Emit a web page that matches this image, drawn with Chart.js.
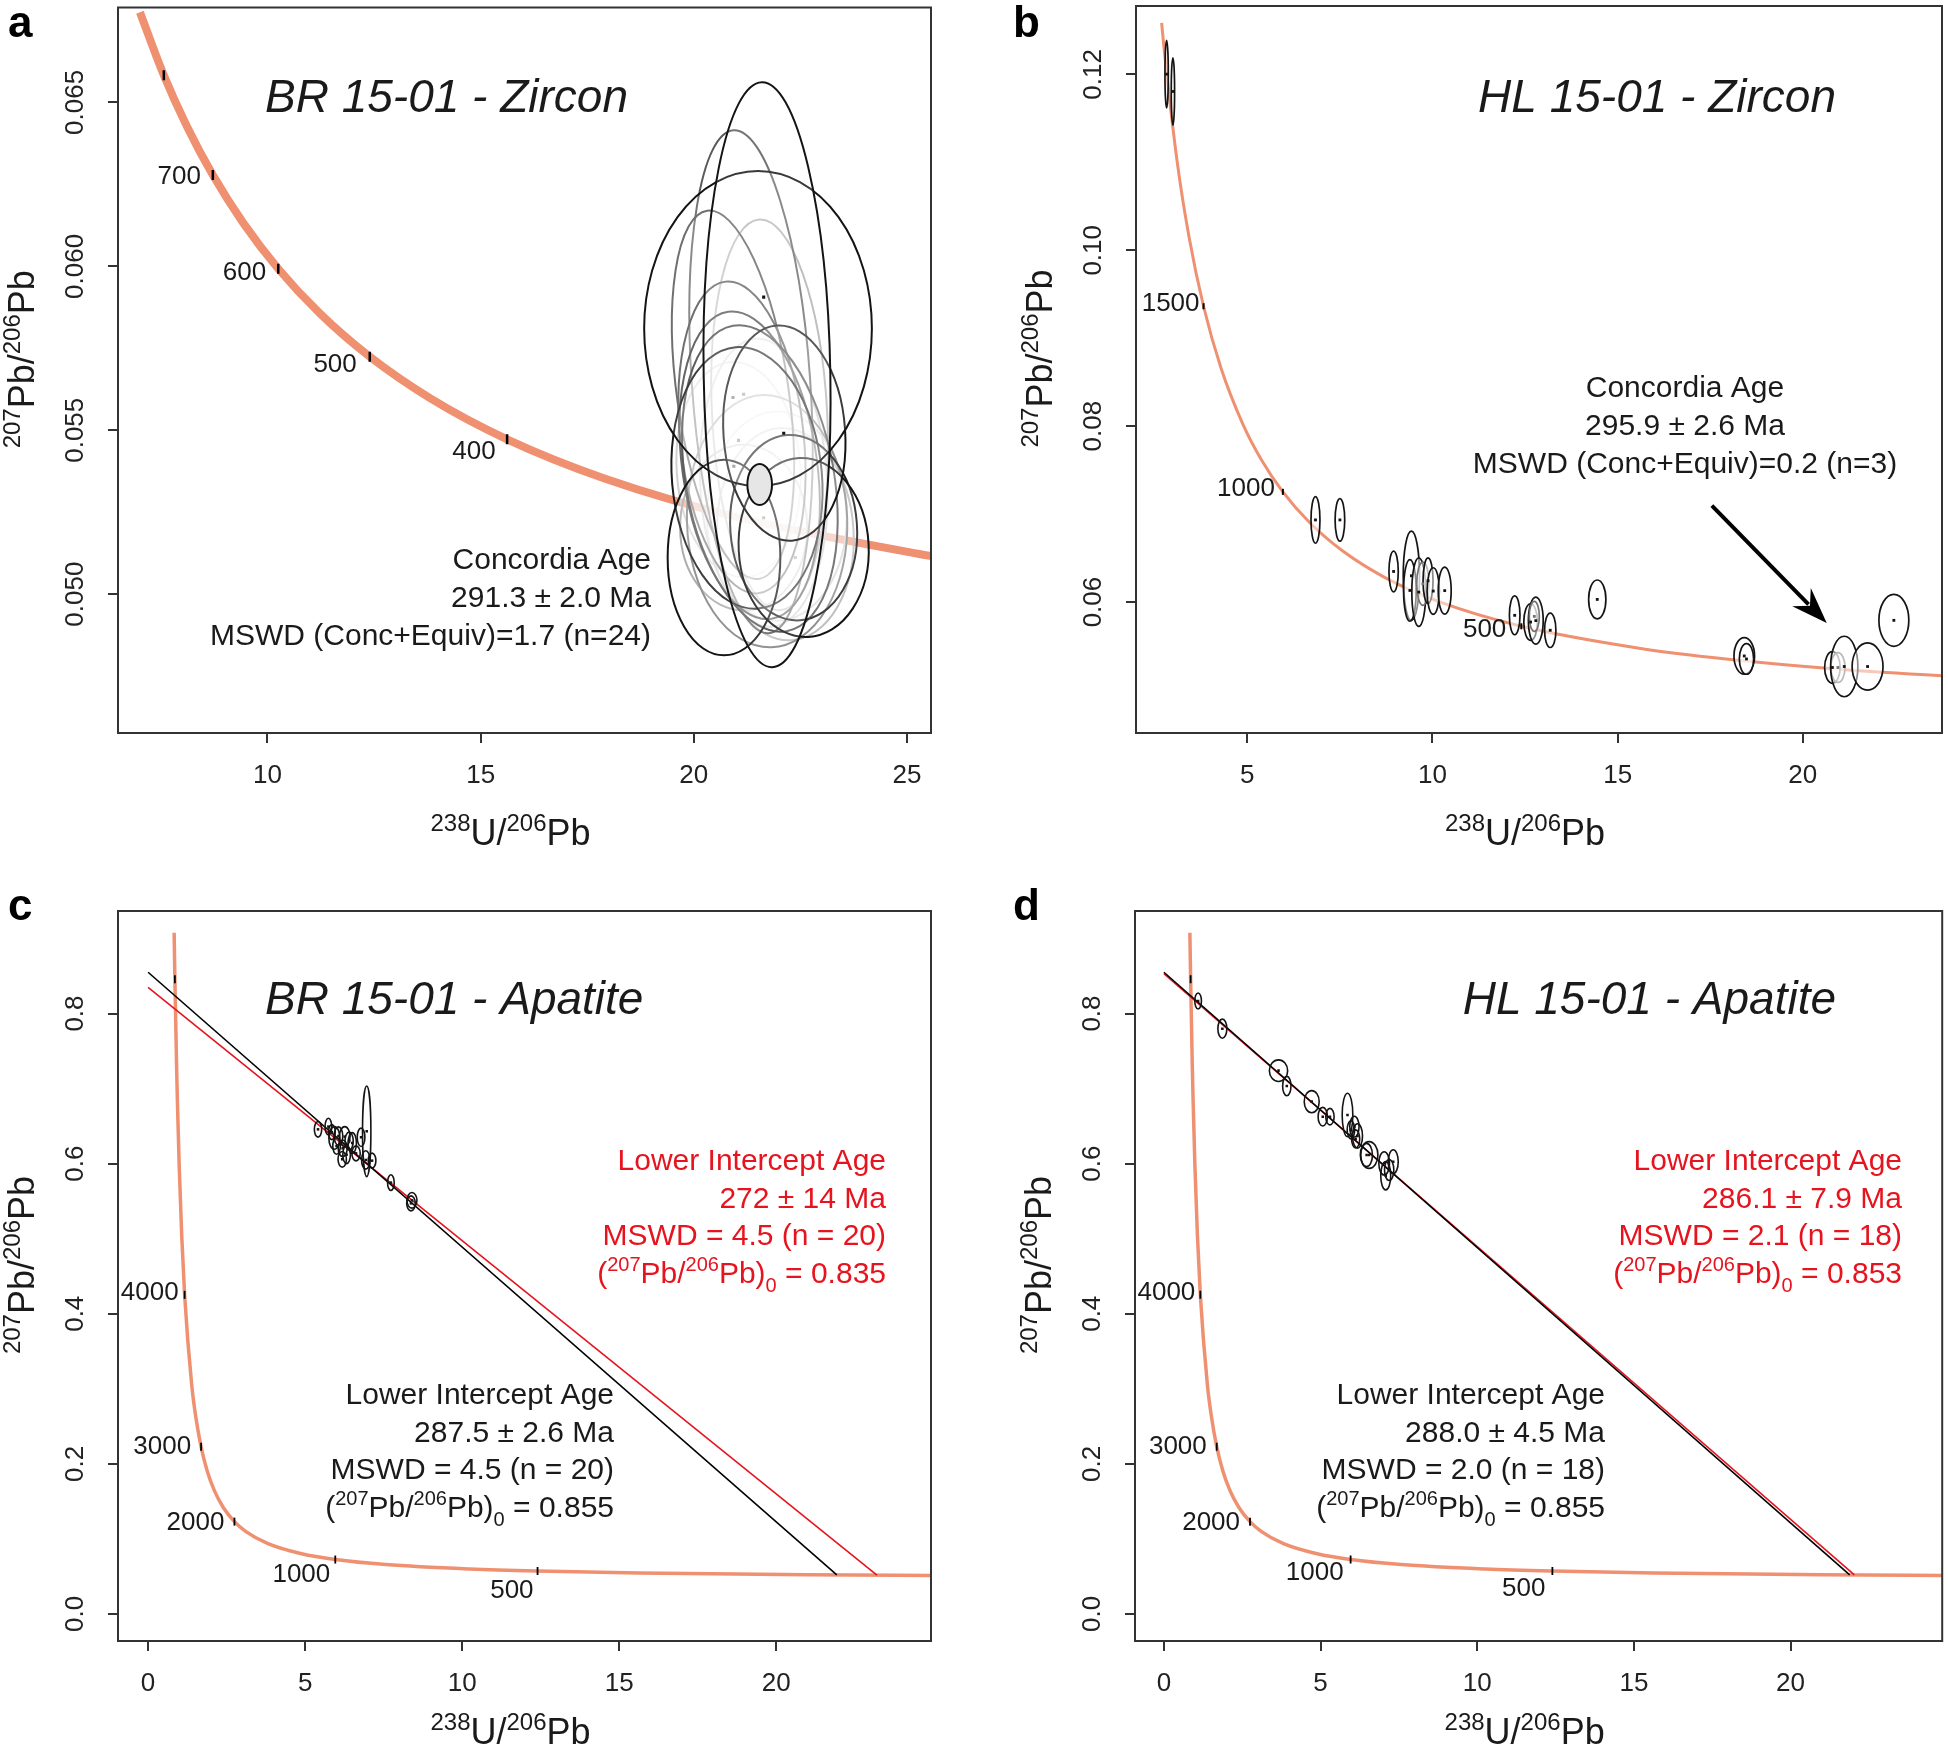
<!DOCTYPE html>
<html>
<head>
<meta charset="utf-8">
<title>U-Pb concordia diagrams</title>
<script src="https://cdn.jsdelivr.net/npm/chart.js@4.4.1/dist/chart.umd.min.js"></script>
<style>
  html, body { margin:0; padding:0; background:#ffffff; }
  body { width:1948px; height:1750px; position:relative; overflow:hidden; }
  .panel { position:absolute; width:974px; height:875px; }
  .panel canvas { display:block; }
</style>
</head>
<body>
<div class="panel" style="left:0;top:0;"><canvas id="pa" width="974" height="875"></canvas></div>
<div class="panel" style="left:974px;top:0;"><canvas id="pb" width="974" height="875"></canvas></div>
<div class="panel" style="left:0;top:875px;"><canvas id="pc" width="974" height="875"></canvas></div>
<div class="panel" style="left:974px;top:875px;"><canvas id="pd" width="974" height="875"></canvas></div>
<script>
// ====================== DATA ======================
// ---- a) BR 15-01 zircon ----
const xTicksA = [10, 15, 20, 25];
const xTickLabelsA = ['10', '15', '20', '25'];
const yTicksA = [0.050, 0.055, 0.060, 0.065];
const yTickLabelsA = ['0.050', '0.055', '0.060', '0.065'];
const concordiaA_x = [7.007, 7.568, 8.105, 8.718, 9.426, 10.252, 11.228, 12.399, 13.831, 15.621, 17.923, 20.992, 25.289, 26.363];
const concordiaA_y = [0.06775, 0.065829, 0.064283, 0.062785, 0.061334, 0.059927, 0.058565, 0.057245, 0.055966, 0.054725, 0.053523, 0.052356, 0.051226, 0.051004];
const ageTicksA_label = ['', '700', '600', '500', '400'];
const ageTicksA_x = [7.568, 8.718, 10.252, 12.399, 15.621];
const ageTicksA_y = [0.065829, 0.062785, 0.059927, 0.057245, 0.054725];
const ellipsesA_x  = [21.95, 21.05, 21.64, 21.17, 22.15, 21.78, 21.72, 21.342, 20.92, 21.13, 21.31, 21.55, 21.248, 22.343, 20.709, 22.578, 22.124, 21.507, 21.718];
const ellipsesA_y  = [0.05238, 0.0538, 0.0534, 0.05203, 0.05183, 0.05547, 0.05223, 0.056481, 0.05608, 0.05478, 0.05393, 0.05353, 0.053547, 0.052029, 0.051118, 0.051422, 0.054913, 0.058101, 0.056694];
const ellipsesA_sx = [1.64, 1.45, 1.49, 1.49, 1.6, 1.35, 1.88, 1.388, 1.31, 1.447, 1.58, 1.74, 1.76, 1.486, 1.322, 1.525, 1.427, 2.671, 1.486];
const ellipsesA_sy = [0.00319, 0.00329, 0.0044, 0.00253, 0.00324, 0.00597, 0.00385, 0.00769, 0.00567, 0.00478, 0.00473, 0.00473, 0.004, 0.002833, 0.002985, 0.002732, 0.003289, 0.004807, 0.008925];
const ellipsesA_tilt = [0, -4, -3, 0, -3, -3, -2, -4, -8, -6, -8, -10, -5, -4, 0, -3, -4, 0, -1];
const ellipsesA_z  = [0.85, 0.85, 0.8, 0.65, 0.75, 0.68, 0.5, 0.33, 0.3, 0.3, 0.25, 0.2, 0.03, 0.03, 0, 0, 0, 0, 0];
const concordiaEllipseA = [21.546, 0.053344, 0.289, 0.000627];
const dotsA_x = [21.64, 22.11, 20.92, 21.17, 21.05, 20.94, 21.64, 22.38];
const dotsA_y = [0.05906, 0.05491, 0.0560, 0.0561, 0.05469, 0.05390, 0.05233, 0.05112];
const dotsA_z = [0, 0, 0.75, 0.85, 0.85, 0.7, 0.88, 0.9];
const titleA = 'BR 15-01 - Zircon';
const noteA = ['Concordia Age', '291.3 \u00B1 2.0 Ma', 'MSWD (Conc+Equiv)=1.7 (n=24)'];

// ---- b) HL 15-01 zircon ----
const xTicksB = [5, 10, 15, 20];
const xTickLabelsB = ['5', '10', '15', '20'];
const yTicksB = [0.06, 0.08, 0.10, 0.12];
const yTickLabelsB = ['0.06', '0.08', '0.10', '0.12'];
const concordiaB_x = [2.686, 2.749, 3.1046, 3.4282, 3.817, 4.2926, 4.8875, 5.3746, 5.9594, 6.6743, 7.568, 8.718, 10.252, 12.399, 15.621, 17.923, 20.992, 25.289];
const concordiaB_y = [0.125851, 0.123042, 0.110085, 0.101451, 0.093639, 0.086567, 0.080158, 0.076222, 0.072532, 0.069073, 0.065829, 0.062785, 0.059927, 0.057245, 0.054725, 0.053523, 0.052356, 0.051226];
const ageTicksB_label = ['1500', '1000', '500'];
const ageTicksB_x = [3.817, 5.9594, 12.399];
const ageTicksB_y = [0.093639, 0.072532, 0.057245];
const ellipsesB_x  = [2.82, 2.99, 6.84, 7.50, 8.95, 9.43, 9.39, 9.63, 9.74, 9.88, 10.02, 10.33, 12.22, 12.65, 12.79, 12.75, 13.18, 14.45, 18.42, 18.48, 20.80, 20.95, 21.12, 21.75, 22.46];
const ellipsesB_y  = [0.12003, 0.11806, 0.06934, 0.06934, 0.06348, 0.06299, 0.06132, 0.06113, 0.06208, 0.06242, 0.06125, 0.06130, 0.05849, 0.05773, 0.05789, 0.05837, 0.05679, 0.06030, 0.05387, 0.05353, 0.05256, 0.05256, 0.05267, 0.05267, 0.05792];
const ellipsesB_sx = [0.045, 0.045, 0.121, 0.130, 0.126, 0.220, 0.170, 0.188, 0.166, 0.135, 0.166, 0.175, 0.143, 0.184, 0.200, 0.135, 0.153, 0.233, 0.278, 0.193, 0.21, 0.19, 0.368, 0.417, 0.404];
const ellipsesB_sy = [0.00384, 0.00382, 0.00265, 0.00242, 0.00232, 0.00507, 0.0035, 0.00389, 0.00246, 0.0026, 0.00265, 0.00268, 0.00221, 0.00208, 0.00268, 0.0017, 0.00196, 0.00221, 0.00208, 0.00174, 0.0018, 0.0017, 0.00344, 0.00268, 0.00295];
const ellipsesB_z  = [0, 0, 0, 0, 0, 0, 0, 0, 0.45, 0, 0, 0, 0, 0, 0, 0.45, 0, 0, 0, 0, 0, 0.45, 0, 0, 0];
const titleB = 'HL 15-01 - Zircon';
const noteB = ['Concordia Age', '295.9 \u00B1 2.6 Ma', 'MSWD (Conc+Equiv)=0.2 (n=3)'];

// ---- c) & d) apatite: shared axes ticks and concordia ----
const xTicksCD = [0, 5, 10, 15, 20];
const xTickLabelsCD = ['0', '5', '10', '15', '20'];
const yTicksCD = [0.0, 0.2, 0.4, 0.6, 0.8];
const yTickLabelsCD = ['0.0', '0.2', '0.4', '0.6', '0.8'];
const concordiaCD_x = [0.82925, 0.85328, 0.90449, 0.93180, 0.99024, 1.07135, 1.16298, 1.3869, 1.52535, 1.6874, 1.87959, 2.1108, 2.3941, 2.7490, 3.1046, 3.817, 4.8875, 5.9594, 7.568, 10.252, 12.399, 15.621, 20.992, 25.289];
const concordiaCD_y = [0.907523, 0.845650, 0.734966, 0.685513, 0.596974, 0.503218, 0.425202, 0.305964, 0.260662, 0.222756, 0.190994, 0.164334, 0.141921, 0.123042, 0.110085, 0.093639, 0.080158, 0.072532, 0.065829, 0.059927, 0.057245, 0.054725, 0.052356, 0.051226];
const ageTicksCD_label = ['', '4000', '3000', '2000', '1000', '500'];
const ageTicksCD_x = [0.85328, 1.16298, 1.6874, 2.7490, 5.9594, 12.399];
const ageTicksCD_y = [0.845650, 0.425202, 0.222756, 0.123042, 0.072532, 0.057245];

// ---- c) BR 15-01 apatite ----
const discordiaC_black_x = [0, 21.926];
const discordiaC_black_y = [0.855, 0.052072];
const discordiaC_red_x = [0, 23.204];
const discordiaC_red_y = [0.835, 0.05172];
const ellipsesC_x  = [5.41, 5.74, 5.93, 6.06, 6.26, 6.195, 6.18, 6.50, 6.78, 6.96, 6.93, 7.13, 6.62, 7.73, 8.40, 8.37, 6.00, 6.32, 6.40, 5.85];
const ellipsesC_y  = [0.6457, 0.6493, 0.6342, 0.6368, 0.6360, 0.6204, 0.6058, 0.6275, 0.6351, 0.6431, 0.6049, 0.6040, 0.6137, 0.5747, 0.5511, 0.5471, 0.6235, 0.6120, 0.6300, 0.6420];
const ellipsesC_sx = [0.117, 0.106, 0.175, 0.138, 0.170, 0.143, 0.133, 0.133, 0.122, 0.133, 0.133, 0.122, 0.133, 0.106, 0.159, 0.138, 0.12, 0.12, 0.13, 0.11];
const ellipsesC_sy = [0.0104, 0.0111, 0.0151, 0.0122, 0.0133, 0.0111, 0.0104, 0.0138, 0.0122, 0.0604, 0.0122, 0.0100, 0.0100, 0.0104, 0.0104, 0.0100, 0.011, 0.012, 0.012, 0.010];
const titleC = 'BR 15-01 - Apatite';
const noteC_red = ['Lower Intercept Age', '272 \u00B1 14 Ma', 'MSWD = 4.5 (n = 20)', '0.835'];
const noteC_black = ['Lower Intercept Age', '287.5 \u00B1 2.6 Ma', 'MSWD = 4.5 (n = 20)', '0.855'];

// ---- d) HL 15-01 apatite ----
const discordiaD_black_x = [0, 21.887];
const discordiaD_black_y = [0.855, 0.05209];
const discordiaD_red_x = [0, 22.036];
const discordiaD_red_y = [0.853, 0.05203];
const ellipsesD_x  = [1.092, 1.866, 3.658, 3.923, 4.718, 5.07, 5.30, 5.86, 6.08, 6.18, 6.55, 6.47, 7.03, 7.08, 7.32, 7.19, 6.12, 5.97];
const ellipsesD_y  = [0.8167, 0.7798, 0.7239, 0.7034, 0.6826, 0.6626, 0.6626, 0.6648, 0.6493, 0.6369, 0.6115, 0.6115, 0.6004, 0.5840, 0.6026, 0.5916, 0.6330, 0.6450];
const ellipsesD_sx = [0.106, 0.143, 0.292, 0.133, 0.239, 0.148, 0.133, 0.170, 0.148, 0.159, 0.281, 0.186, 0.170, 0.159, 0.159, 0.148, 0.13, 0.12];
const ellipsesD_sy = [0.0107, 0.0127, 0.0144, 0.0129, 0.0147, 0.0124, 0.0110, 0.0289, 0.0138, 0.0162, 0.0178, 0.0155, 0.0155, 0.0189, 0.0160, 0.0140, 0.012, 0.012];
const titleD = 'HL 15-01 - Apatite';
const noteD_red = ['Lower Intercept Age', '286.1 \u00B1 7.9 Ma', 'MSWD = 2.1 (n = 18)', '0.853'];
const noteD_black = ['Lower Intercept Age', '288.0 \u00B1 4.5 Ma', 'MSWD = 2.0 (n = 18)', '0.855'];

// ====================== STYLE / LAYOUT ======================
const FONT = '"Liberation Sans", Arimo, Arial, Helvetica, sans-serif';
const CONC_COLOR = '#EF9070';
const RED = '#E5141E';
const INK = '#1a1a1a';
const W = 974, H = 875;
const zeros = n => new Array(n).fill(0);
function greyOf(z) { const g = Math.round(20 + z * 212); return 'rgb(' + g + ',' + g + ',' + g + ')'; }

const CFG = {
  pa: {
    area: {L:118, T:4, R:931, B:733}, xr: [6.493, 25.565], yr: [0.045765, 0.067896],
    xt: xTicksA, xtl: xTickLabelsA, yt: yTicksA, ytl: yTickLabelsA,
    conc: {x: concordiaA_x, y: concordiaA_y}, concWidth: 8,
    ages: {x: ageTicksA_x, y: ageTicksA_y, lab: ageTicksA_label},
    labOff: [[0,0],[-12,2],[-12,4],[-13,8],[-11.5,13]], tickR: 5, tickW: 2.5,
    ell: {x: ellipsesA_x, y: ellipsesA_y, sx: ellipsesA_sx, sy: ellipsesA_sy, tilt: ellipsesA_tilt, z: ellipsesA_z},
    ellFill: 'rgba(255,255,255,0.16)', ellWidth: 2, ageEll: concordiaEllipseA,
    dots: {x: dotsA_x, y: dotsA_y, z: dotsA_z}, dotR: 2.2,
    letter: ['a', 8, 37], title: {text: titleA, x: 265, y: 112, align: 'left'},
    notes: [{lines: noteA, x: 651, y: 569, dy: 38, align: 'right', color: INK}],
    xTitleY: 845, lines: []
  },
  pb: {
    area: {L:162, T:4, R:971, B:733}, xr: [1.993, 23.76], yr: [0.04511, 0.12778],
    xt: xTicksB, xtl: xTickLabelsB, yt: yTicksB, ytl: yTickLabelsB,
    conc: {x: concordiaB_x, y: concordiaB_y}, concWidth: 3,
    ages: {x: ageTicksB_x, y: ageTicksB_y, lab: ageTicksB_label},
    labOff: [[-4,-2],[-8,-3],[-15,4]], tickR: 3, tickW: 2,
    ell: {x: ellipsesB_x, y: ellipsesB_y, sx: ellipsesB_sx, sy: ellipsesB_sy, z: ellipsesB_z},
    ellFill: 'rgba(255,255,255,0.5)', ellWidth: 1.7,
    dots: {x: ellipsesB_x, y: ellipsesB_y, z: ellipsesB_z}, dotR: 2,
    letter: ['b', 39, 37], title: {text: titleB, x: 862, y: 112, align: 'right'},
    notes: [{lines: noteB, x: 711, y: 397, dy: 38, align: 'center', color: INK}],
    arrow: {x0: 17.545, y0: 0.07096, x1: 20.647, y1: 0.05763},
    xTitleY: 845, lines: []
  },
  pc: {
    area: {L:118, T:36, R:931, B:766}, xr: [-0.958, 24.925], yr: [-0.036, 0.9366],
    xt: xTicksCD, xtl: xTickLabelsCD, yt: yTicksCD, ytl: yTickLabelsCD,
    conc: {x: concordiaCD_x, y: concordiaCD_y}, concWidth: 3.5,
    ages: {x: ageTicksCD_x, y: ageTicksCD_y, lab: ageTicksCD_label},
    labOff: [[0,0],[-6,-2],[-10,0],[-10,1],[-5,15],[-4,20]], tickR: 4, tickW: 1.8,
    ell: {x: ellipsesC_x, y: ellipsesC_y, sx: ellipsesC_sx, sy: ellipsesC_sy, z: zeros(ellipsesC_x.length)},
    ellFill: null, ellWidth: 1.6,
    dots: {x: ellipsesC_x, y: ellipsesC_y, z: zeros(ellipsesC_x.length)}, dotR: 1.8,
    letter: ['c', 8, 45], title: {text: titleC, x: 265, y: 139, align: 'left'},
    notes: [{lines: noteC_red, x: 886, y: 295, dy: 37.5, align: 'right', color: RED},
            {lines: noteC_black, x: 614, y: 529, dy: 37.5, align: 'right', color: INK}],
    xTitleY: 869,
    lines: [{x: discordiaC_black_x, y: discordiaC_black_y, color: '#000'},
            {x: discordiaC_red_x, y: discordiaC_red_y, color: RED}]
  },
  pd: {
    area: {L:161, T:36, R:971, B:766}, xr: [-0.922, 24.84], yr: [-0.036, 0.9366],
    xt: xTicksCD, xtl: xTickLabelsCD, yt: yTicksCD, ytl: yTickLabelsCD,
    conc: {x: concordiaCD_x, y: concordiaCD_y}, concWidth: 3.5,
    ages: {x: ageTicksCD_x, y: ageTicksCD_y, lab: ageTicksCD_label},
    labOff: [[0,0],[-5,-2],[-10,0],[-10,1],[-7,13],[-7,18]], tickR: 4, tickW: 1.8,
    ell: {x: ellipsesD_x, y: ellipsesD_y, sx: ellipsesD_sx, sy: ellipsesD_sy, z: zeros(ellipsesD_x.length)},
    ellFill: null, ellWidth: 1.6,
    dots: {x: ellipsesD_x, y: ellipsesD_y, z: zeros(ellipsesD_x.length)}, dotR: 1.8,
    letter: ['d', 39, 45], title: {text: titleD, x: 862, y: 139, align: 'right'},
    notes: [{lines: noteD_red, x: 928, y: 295, dy: 37.5, align: 'right', color: RED},
            {lines: noteD_black, x: 631, y: 529, dy: 37.5, align: 'right', color: INK}],
    xTitleY: 869,
    lines: [{x: discordiaD_black_x, y: discordiaD_black_y, color: '#000'},
            {x: discordiaD_red_x, y: discordiaD_red_y, color: RED}]
  }
};

// ====================== DRAWING HELPERS ======================
function rich(ctx, segs, x, y, align, size, color) {
  const small = Math.round(size * 0.68);
  const fonts = {n: size + 'px ' + FONT, sup: small + 'px ' + FONT, sub: small + 'px ' + FONT};
  const off = {n: 0, sup: -size * 0.40, sub: size * 0.32};
  let w = 0;
  const ws = segs.map(s => { ctx.font = fonts[s[1]]; const m = ctx.measureText(s[0]).width; w += m; return m; });
  let cx = align === 'right' ? x - w : (align === 'center' ? x - w / 2 : x);
  ctx.fillStyle = color; ctx.textAlign = 'left'; ctx.textBaseline = 'alphabetic';
  segs.forEach((s, i) => { ctx.font = fonts[s[1]]; ctx.fillText(s[0], cx, y + off[s[1]]); cx += ws[i]; });
}

function drawEllipses(chart, P) {
  const ctx = chart.ctx, a = chart.chartArea, xs = chart.scales.x, ys = chart.scales.y;
  const E = P.ell;
  ctx.save();
  ctx.beginPath(); ctx.rect(a.left, a.top, a.right - a.left, a.bottom - a.top); ctx.clip();
  const one = (cx, cy, sx, sy, rotDeg, stroke, fill, lw) => {
    const px = xs.getPixelForValue(cx), py = ys.getPixelForValue(cy);
    const rx = Math.abs(xs.getPixelForValue(cx + sx) - px);
    const ry = Math.abs(ys.getPixelForValue(cy + sy) - py);
    ctx.beginPath(); ctx.ellipse(px, py, rx, ry, rotDeg * Math.PI / 180, 0, Math.PI * 2);
    if (fill) { ctx.fillStyle = fill; ctx.fill(); }
    ctx.strokeStyle = stroke; ctx.lineWidth = lw; ctx.stroke();
  };
  for (let i = 0; i < E.x.length; i++) {
    one(E.x[i], E.y[i], E.sx[i], E.sy[i], E.tilt ? E.tilt[i] : 0, greyOf(E.z[i]), P.ellFill, P.ellWidth);
  }
  if (P.ageEll) {
    const g = P.ageEll;
    one(g[0], g[1], g[2], g[3], 0, '#111', '#e6e6e6', 2);
  }
  ctx.restore();
}

function drawDecor(chart, P) {
  const ctx = chart.ctx, a = chart.chartArea, xs = chart.scales.x, ys = chart.scales.y;
  ctx.save();
  // frame
  ctx.strokeStyle = '#333'; ctx.lineWidth = 2;
  ctx.strokeRect(a.left, a.top, a.right - a.left, a.bottom - a.top);
  // tick labels
  ctx.fillStyle = '#222'; ctx.font = '26px ' + FONT; ctx.textAlign = 'center'; ctx.textBaseline = 'middle';
  P.xt.forEach((v, i) => ctx.fillText(P.xtl[i], xs.getPixelForValue(v), a.bottom + 43));
  P.yt.forEach((v, i) => {
    ctx.save(); ctx.translate(a.left - 42, ys.getPixelForValue(v)); ctx.rotate(-Math.PI / 2);
    ctx.fillText(P.ytl[i], 0, 0); ctx.restore();
  });
  // axis titles
  const cxBox = (a.left + a.right) / 2, cyBox = (a.top + a.bottom) / 2;
  rich(ctx, [['238', 'sup'], ['U/', 'n'], ['206', 'sup'], ['Pb', 'n']], cxBox - 14, P.xTitleY, 'center', 36, INK);
  ctx.save(); ctx.translate(a.left - 84, cyBox - 11); ctx.rotate(-Math.PI / 2);
  rich(ctx, [['207', 'sup'], ['Pb/', 'n'], ['206', 'sup'], ['Pb', 'n']], 0, 0, 'center', 36, INK);
  ctx.restore();
  // concordia age labels
  ctx.fillStyle = INK; ctx.font = '26px ' + FONT; ctx.textAlign = 'right'; ctx.textBaseline = 'middle';
  P.ages.lab.forEach((t, i) => {
    if (!t) return;
    const o = P.labOff[i];
    ctx.fillText(t, xs.getPixelForValue(P.ages.x[i]) + o[0], ys.getPixelForValue(P.ages.y[i]) + o[1]);
  });
  // panel letter & title
  ctx.fillStyle = '#000'; ctx.font = 'bold 44px ' + FONT; ctx.textAlign = 'left'; ctx.textBaseline = 'alphabetic';
  ctx.fillText(P.letter[0], P.letter[1], P.letter[2]);
  ctx.fillStyle = INK; ctx.font = 'italic 46px ' + FONT; ctx.textAlign = P.title.align;
  ctx.fillText(P.title.text, P.title.x, P.title.y);
  // annotation blocks
  P.notes.forEach(nb => {
    nb.lines.forEach((line, k) => {
      let segs;
      if (k === 3) {
        segs = [['(', 'n'], ['207', 'sup'], ['Pb/', 'n'], ['206', 'sup'], ['Pb)', 'n'], ['0', 'sub'], [' = ' + line, 'n']];
      } else {
        segs = [[line, 'n']];
      }
      rich(ctx, segs, nb.x, nb.y + k * nb.dy, nb.align, 30, nb.color);
    });
  });
  // arrow
  if (P.arrow) {
    const x0 = xs.getPixelForValue(P.arrow.x0), y0 = ys.getPixelForValue(P.arrow.y0);
    const x1 = xs.getPixelForValue(P.arrow.x1), y1 = ys.getPixelForValue(P.arrow.y1);
    const ang = Math.atan2(y1 - y0, x1 - x0), len = 32, hw = 13;
    const bx = x1 - Math.cos(ang) * len, by = y1 - Math.sin(ang) * len;
    ctx.strokeStyle = '#000'; ctx.lineWidth = 4; ctx.lineCap = 'butt';
    ctx.beginPath(); ctx.moveTo(x0, y0); ctx.lineTo(bx + Math.cos(ang) * 6, by + Math.sin(ang) * 6); ctx.stroke();
    ctx.fillStyle = '#000'; ctx.beginPath();
    ctx.moveTo(x1, y1);
    ctx.lineTo(bx - Math.sin(ang) * hw - Math.cos(ang) * 4, by + Math.cos(ang) * hw - Math.sin(ang) * 4);
    ctx.lineTo(bx + Math.cos(ang) * 8, by + Math.sin(ang) * 8);
    ctx.lineTo(bx + Math.sin(ang) * hw - Math.cos(ang) * 4, by - Math.cos(ang) * hw - Math.sin(ang) * 4);
    ctx.closePath(); ctx.fill();
  }
  ctx.restore();
}

const decoPlugin = {
  id: 'deco',
  afterDatasetDraw(chart, args) {
    if (chart.data.datasets[args.index].label === 'ELL') drawEllipses(chart, CFG[chart.canvas.id]);
  },
  afterDraw(chart) { drawDecor(chart, CFG[chart.canvas.id]); }
};

function axisOpts(P, isX) {
  return {
    type: 'linear', position: isX ? 'bottom' : 'left',
    min: isX ? P.xr[0] : P.yr[0], max: isX ? P.xr[1] : P.yr[1],
    afterBuildTicks: s => { s.ticks = (isX ? P.xt : P.yt).map(v => ({value: v})); },
    afterFit: s => { if (isX) s.height = H - P.area.B; else s.width = P.area.L; },
    ticks: {display: false},
    grid: {drawOnChartArea: false, drawTicks: true, tickLength: 10, color: '#333', lineWidth: 2},
    border: {display: false}
  };
}

function build(id) {
  const P = CFG[id];
  const pts = (xa, ya) => xa.map((x, i) => ({x: x, y: ya[i]}));
  const datasets = [];
  datasets.push({label: 'concordia', data: pts(P.conc.x, P.conc.y), showLine: true,
    borderColor: CONC_COLOR, borderWidth: P.concWidth, pointRadius: 0, cubicInterpolationMode: 'monotone',
    clip: 0, order: 10});
  P.lines.forEach(l => datasets.push({label: 'discordia', data: pts(l.x, l.y), showLine: true,
    borderColor: l.color, borderWidth: 1.6, pointRadius: 0, clip: 0, order: 8}));
  datasets.push({label: 'ELL', data: [], order: 5, pointRadius: 0});
  datasets.push({label: 'dots', data: pts(P.dots.x, P.dots.y), showLine: false, pointStyle: 'rect',
    pointRadius: P.dotR, pointBackgroundColor: P.dots.z.map(greyOf), pointBorderWidth: 0, clip: 0, order: 2});
  datasets.push({label: 'ageTicks', data: pts(P.ages.x, P.ages.y), showLine: false, pointStyle: 'line',
    pointRotation: 90, pointRadius: P.tickR, pointBorderColor: '#000', pointBorderWidth: P.tickW, order: 1});
  new Chart(document.getElementById(id), {
    type: 'scatter',
    data: {datasets: datasets},
    options: {
      responsive: false, maintainAspectRatio: false, devicePixelRatio: 1, animation: false, events: [],
      layout: {padding: {top: P.area.T, right: W - P.area.R, left: 0, bottom: 0}},
      plugins: {legend: {display: false}, tooltip: {enabled: false}},
      scales: {x: axisOpts(P, true), y: axisOpts(P, false)}
    },
    plugins: [decoPlugin]
  });
}
['pa', 'pb', 'pc', 'pd'].forEach(build);
</script>
</body>
</html>
